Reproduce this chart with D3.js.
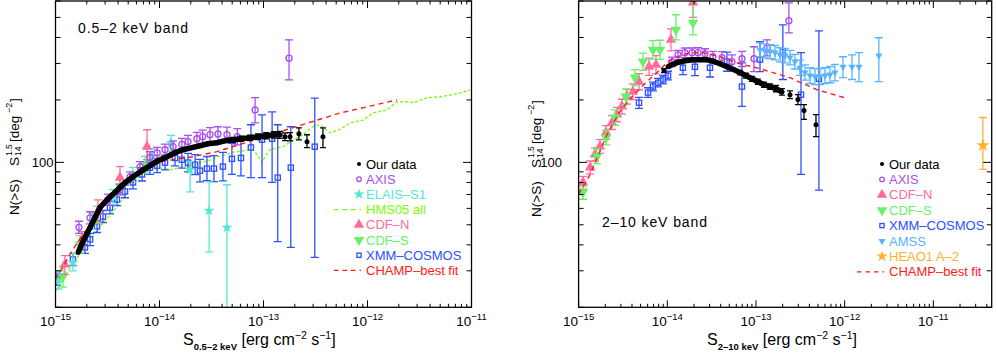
<!DOCTYPE html>
<html>
<head>
<meta charset="utf-8">
<script src="https://cdn.jsdelivr.net/npm/d3@7"></script>
<style>
body{margin:0;background:#fff}
svg{display:block;font-family:"Liberation Sans",Arial,Helvetica,sans-serif}
</style>
</head>
<body>
<svg id="chart" width="997" height="353"></svg>
<script>
// ---- data: [flux (erg cm-2 s-1), N(>S) S14^1.5, lower, upper] ----

// 0.5-2 keV panel
var softOur = [[1.65e-15,36.8],[1.88e-15,42.6],[2.15e-15,48.5],[2.40e-15,54.2],[2.68e-15,60.6],[3.20e-15,66.8],
  [3.90e-15,73.1],[4.66e-15,79.8],[5.56e-15,85.3],[6.79e-15,91.2],[8.11e-15,96.4],[9.68e-15,101.9],[1.18e-14,106.4],
  [1.41e-14,111.3],[1.68e-14,115.1],[2.05e-14,117.7],[2.45e-14,120.3],[2.92e-14,123.0],[3.57e-14,124.4],[4.26e-14,127.1],
  [5.09e-14,128.5],[6.08e-14,130.0],[7.41e-14,131.5],[8.85e-14,132.9],[1.06e-13,134.4],[1.26e-13,135.9],[1.44e-13,135.9]];
var softOurBins = [[5.09e-14,128.5,125.0,132.0],[6.08e-14,130.0,126.3,133.7],[7.41e-14,131.5,127.6,135.4],
  [8.85e-14,132.9,128.7,137.1],[1.06e-13,134.4,129.9,138.9],[1.26e-13,135.9,131.0,140.8],[1.44e-13,135.9,130.6,141.2],
  [1.61e-13,132.9,127.4,138.6],[1.80e-13,132.9,127.0,139.0],[2.19e-13,137.4,128.5,146.8],[2.62e-13,125.7,117.7,135.9],
  [3.73e-13,132.9,117.7,146.8]];
var softAxis = [[1.68e-15,48.6,45.5,52.0],[2.15e-15,54.0,50.5,57.8],[3.2e-15,66.0,62.0,70.3],[4.17e-15,74.0,69.8,78.5],
  [5.2e-15,85.0,80.2,90.0],[6.5e-15,95.0,89.5,100.8],[8.1e-15,106,100,112.5],[9.5e-15,111,104.5,118],[1.13e-14,115,108,122.5],
  [1.35e-14,119,111.5,127],[1.64e-14,122,114,130.5],[1.88e-14,126,117.5,135],[2.29e-14,130,121,139.5],[2.6e-14,133,123.5,143],
  [3.06e-14,136,126,147],[3.65e-14,137,126.5,148.5],[4.45e-14,136,125,148],[5.6e-14,133,121.5,145.5],[8.3e-14,179,155,205],
  [1.76e-13,318,250,390]];
var softElais = [[1.06e-15,27.0,24.5,29.8],[1.47e-15,33.0,30.0,36.3],[2.25e-15,52.0,47.5,57.0],[3.58e-15,68.0,62.5,74.0],
  [5.55e-15,87.0,80.0,94.5],[8.5e-15,107,99,116],[1.29e-14,124,113,135],[1.97e-14,92,72,101],[3.0e-14,58.5,37,80.6],
  [4.45e-14,48.5,15,78]];
var softHms = [[1.0e-15,23.9],[1.29e-15,29.5],[1.84e-15,38.0],[2.68e-15,49.0],[3.9e-15,61.0],[5.56e-15,78.0],[6.94e-15,89.0],
  [1.01e-14,94.0],[1.3e-14,92.0],[1.57e-14,95.0],[2.0e-14,96.0],[2.45e-14,99.7],[3.0e-14,102],[3.57e-14,106],[4.3e-14,109],
  [5.09e-14,112],[6.0e-14,113],[6.93e-14,115],[7.95e-14,115],[8.8e-14,108],[9.68e-14,100],[1.05e-13,108],[1.15e-13,115],
  [1.54e-13,119],[1.92e-13,128],[2.4e-13,136],[2.93e-13,148],[3.49e-13,152],[4.36e-13,139],[5.44e-13,144],[6.79e-13,155],
  [9.06e-13,160],[1.13e-12,173],[1.54e-12,179],[1.92e-12,196],[2.4e-12,196],[2.74e-12,194],[3.74e-12,205],[4.98e-12,207],
  [6.64e-12,212],[9.68e-12,223]];
var softCdfn = [[1.23e-15,32.2,28.8,35.5],[1.80e-15,42.5,39.0,46.3],[2.56e-15,58.0,51.8,66.0],[4.17e-15,84.4,75.6,95.4],
  [7.59e-15,119,103,143.6]];
var softCdfs = [[1.18e-15,28.1,25.0,31.5],[1.72e-15,40.2,36.5,44.3],[2.5e-15,56.0,51.0,61.5],[4.17e-15,76.4,70.0,83.4],
  [7.25e-15,97.5,89.0,106.8]];
var softXmm = [[1.03e-15,27.3,25.5,29.2],[1.47e-15,34.0,31.8,36.4],[1.92e-15,38.9,36.4,41.6],[2.15e-15,42.5,39.7,45.5],
  [2.51e-15,49.1,45.9,52.5],[2.86e-15,54.8,51.2,58.6],[3.34e-15,60.5,56.5,64.8],[3.9e-15,66.2,61.8,70.9],[4.66e-15,72.4,67.5,77.6],
  [5.56e-15,80.0,74.5,85.9],[6.8e-15,87.5,81.3,94.2],[8.1e-15,94.3,87.5,101.6],[9.5e-15,96.4,89.2,104.2],[1.13e-14,99.7,91.9,108.2],
  [1.41e-14,105,96.2,114.6],[1.64e-14,103,93.8,113.1],[1.88e-14,99.7,90.0,110.4],[2.2e-14,97.5,87.3,108.9],[2.45e-14,91.2,80.5,103.3],
  [2.86e-14,93.3,81.6,106.7],[3.34e-14,93.3,80.8,107.7],[4.07e-14,95.4,81.5,111.7],[4.97e-14,104,87.5,123.6],[6.07e-14,105,86.0,128.2],
  [7.57e-14,118,84.4,151.8],[9.68e-14,128.6,84.4,169.5],[1.21e-13,130,80,175],[1.37e-13,84.4,41.5,151.8],[1.83e-13,94.3,38.9,148.5],
  [3.11e-13,119,34.8,204]];
var softChamp = [[1e-15,27.3],[1.54e-15,39.4],[2.86e-15,61.2],[5.56e-15,87.3],[1.01e-14,100.8],[2.1e-14,106.5],[3.57e-14,112.6],
  [1.44e-13,140.5],[5.44e-13,173],[1.92e-12,200]];

// 2-10 keV panel
var hardOur = [[1.02e-14,289],[1.13e-14,296],[1.29e-14,302.6],[1.58e-14,309],[1.95e-14,312.7],[2.34e-14,312.7],[2.80e-14,312.7],
  [3.36e-14,306],[3.93e-14,299],[4.71e-14,289.4],[5.64e-14,280],[6.59e-14,271],[7.70e-14,262],[9.01e-14,253],[1.05e-13,245],
  [1.23e-13,237],[1.44e-13,232],[1.68e-13,227],[1.96e-13,219]];
var hardOurBins = [[9.18e-15,277,271,283],[6.59e-14,271,264,278],[7.70e-14,262,255,269],[9.01e-14,253,246,260],[1.05e-13,245,238,252],
  [1.23e-13,237,230,244],[1.44e-13,232,225,239],[1.68e-13,227,219,235],[1.96e-13,219,211,227],[2.42e-13,212,203,221],
  [2.97e-13,201,190,212],[3.48e-13,178,161,190],[4.75e-13,152,133,170]];
var hardAxis = [[1.13e-14,306,290,322],[1.32e-14,330,313,347],[1.58e-14,338,320,356],[1.90e-14,338,320,356],[2.22e-14,338,319,357],
  [2.66e-14,334,315,353],[3.27e-14,323,303,343],[4.14e-14,320,299,342],[5.36e-14,306,283,330],[6.95e-14,316,290,343],
  [9.49e-14,316,274,361],[1.33e-13,357,326,390],[2.35e-13,482,421,588]];
var hardCdfn = [[1.12e-15,80.1,74.2,85.6],[1.35e-15,94.6,88.0,101.5],[1.53e-15,109.3,101.5,117.5],[1.74e-15,119.4,110.5,128.8],
  [2.04e-15,139.4,129,150.5],[2.38e-15,155.7,144,168],[2.71e-15,170.1,157,184],[3.08e-15,185.9,171,201.5],[3.51e-15,207.6,191,225],
  [4.10e-15,219.4,201,239],[4.80e-15,245.1,224,268],[6.22e-15,289.4,263,318],[7.46e-15,295.8,267,327],[1.10e-14,390,345,440],
  [1.95e-14,590,500,700]];
var hardCdfs = [[1.12e-15,71.7,66.4,76.7],[1.61e-15,106.9,98.5,116],[2.04e-15,131.9,121.5,143],[2.57e-15,164.6,151,179],
  [3.42e-15,207.6,190,226],[4.32e-15,256.3,234,280],[5.32e-15,306,278,336],[6.90e-15,349,315,386],[8.28e-15,349,314,388],
  [1.25e-14,436,390,515],[1.95e-14,471,412,620]];
var hardXmm = [[4.80e-15,194,182,206],[6.06e-15,217,206,229],[6.90e-15,232,221,244],[7.87e-15,242,231,254],[8.97e-15,251,239,263],
  [1.02e-14,262,250,275],[1.50e-14,286,265,308],[2.05e-14,289,262,318],[3.03e-14,286,258,316],[4.71e-14,306,275,340],
  [6.95e-14,232,186,302],[1.11e-13,313,274,382],[2.01e-13,342,251,460],[3.22e-13,212,87.6,338],[5.13e-13,253,73.4,431]];
var hardAmss = [[1.11e-13,349,323,377],[1.26e-13,345,319,373],[1.44e-13,342,316,370],[1.64e-13,338,312,366],[1.87e-13,330,305,357],
  [2.12e-13,327,302,354],[2.42e-13,320,295,347],[2.75e-13,306,282,332],[3.14e-13,286,263,311],[3.57e-13,271,249,295],
  [4.06e-13,262,240,286],[4.63e-13,259,237,283],[5.26e-13,259,237,283],[6.00e-13,262,240,286],[6.83e-13,265,242,290],
  [7.77e-13,271,247,297],[9.57e-13,289,256,323],[1.21e-12,289,251,330],[1.45e-12,289,245,338],[2.43e-12,327,245,399]];
var hardHeao = [[3.62e-11,120.7,92.5,164.6]];
var hardChamp = [[1e-15,70.2],[1.35e-15,87.5],[2.14e-15,139.4],[2.93e-15,176],[4.1e-15,210],[5.9e-15,245],[7.87e-15,274],
  [9.93e-15,302.6],[1.29e-14,323],[1.8e-14,338],[2.53e-14,338],[3.93e-14,323],[6.59e-14,299],[1.11e-13,283],[2.42e-13,256],
  [4.88e-13,224],[1e-12,205]];

var softLegend = ["Our data","AXIS","ELAIS–S1","HMS05 all","CDF–N","CDF–S","XMM–COSMOS","CHAMP–best fit"];
var hardLegend = ["Our data","AXIS","CDF–N","CDF–S","XMM–COSMOS","AMSS","HEAO1 A–2","CHAMP–best fit"];

// ---- styles ----
var col = {our:"#000", axis:"#a84ef0", elais:"#55e6d2", hms:"#7cfc00", cdfn:"#ff6b9b", cdfs:"#66f266",
           xmm:"#2b50ff", amss:"#55b4ff", heao:"#ffb02e", champ:"#ff1a1a"};
var markOf = {"Our data":"dot","AXIS":"circle","ELAIS–S1":"star","HMS05 all":"line","CDF–N":"triUp","CDF–S":"triDown",
  "XMM–COSMOS":"square","AMSS":"triSmall","HEAO1 A–2":"starBig","CHAMP–best fit":"line"};
var colOf = {"Our data":col.our,"AXIS":col.axis,"ELAIS–S1":col.elais,"HMS05 all":col.hms,"CDF–N":col.cdfn,"CDF–S":col.cdfs,
  "XMM–COSMOS":col.xmm,"AMSS":col.amss,"HEAO1 A–2":col.heao,"CHAMP–best fit":col.champ};

var svg = d3.select("#chart");
var yTop = 1, yBot = 307.3;
var y = d3.scaleLog().domain([20, 600]).range([yBot, yTop]);

function isMajor(t){ var l = Math.log10(t); return Math.abs(l - Math.round(l)) < 1e-6; }

function mark(g, type, color, cx, cy, small){
  var tr = "translate(" + cx + "," + cy + ")";
  var r = small ? 2.3 : 3, s = small ? 4.2 : 5.2;
  if (type == "dot") g.append("circle").attr("cx",cx).attr("cy",cy).attr("r",small ? 2 : 2.5).attr("fill",color);
  else if (type == "circle") g.append("circle").attr("cx",cx).attr("cy",cy).attr("r",r).attr("fill","none").attr("stroke",color).attr("stroke-width",1.3);
  else if (type == "square") g.append("rect").attr("x",cx-s/2).attr("y",cy-s/2).attr("width",s).attr("height",s).attr("fill","none").attr("stroke",color).attr("stroke-width",1.3);
  else if (type == "triUp") g.append("path").attr("d",d3.symbol(d3.symbolTriangle,48)()).attr("transform",tr).attr("fill",color);
  else if (type == "triDown") g.append("path").attr("d",d3.symbol(d3.symbolTriangle,48)()).attr("transform",tr+" rotate(180)").attr("fill",color);
  else if (type == "triSmall") g.append("path").attr("d",d3.symbol(d3.symbolTriangle,22)()).attr("transform",tr+" rotate(180)").attr("fill",color);
  else if (type == "star") g.append("path").attr("d",d3.symbol(d3.symbolStar,38)()).attr("transform",tr).attr("fill",color);
  else if (type == "starBig") g.append("path").attr("d",d3.symbol(d3.symbolStar,small ? 40 : 55)()).attr("transform",tr).attr("fill",color);
}

function drawSeries(g, x, data, type, color, cap){
  data.forEach(function(d){
    if (d.length > 2) {
      var px = x(d[0]), ylo = y(d[2]), yhi = y(d[3]);
      g.append("line").attr("x1",px).attr("x2",px).attr("y1",ylo).attr("y2",yhi).attr("stroke",color).attr("stroke-width",1.3);
      g.append("line").attr("x1",px-cap).attr("x2",px+cap).attr("y1",ylo).attr("y2",ylo).attr("stroke",color).attr("stroke-width",1.3);
      g.append("line").attr("x1",px-cap).attr("x2",px+cap).attr("y1",yhi).attr("y2",yhi).attr("stroke",color).attr("stroke-width",1.3);
    }
    mark(g, type, color, x(d[0]), y(d[1]));
  });
}

function drawLine(g, x, data, color, dash, w){
  g.append("path").datum(data)
    .attr("d", d3.line().x(function(d){return x(d[0]);}).y(function(d){return y(d[1]);}))
    .attr("fill","none").attr("stroke",color).attr("stroke-width",w).attr("stroke-dasharray",dash);
}

function drawPanel(p){
  var x = d3.scaleLog().domain(p.xDomain).range([p.x0, p.x1]);

  svg.append("clipPath").attr("id","clip"+p.id).append("rect")
    .attr("x",p.x0).attr("y",yTop).attr("width",p.x1-p.x0).attr("height",yBot-yTop);
  var plot = svg.append("g").attr("clip-path","url(#clip"+p.id+")");

  p.draw(plot, x);

  // frame and ticks (mirrored, pointing inward)
  var ax = svg.append("g");
  ax.append("rect").attr("x",p.x0).attr("y",yTop).attr("width",p.x1-p.x0).attr("height",yBot-yTop)
    .attr("fill","none").attr("stroke","#000").attr("stroke-width",1.3);
  x.ticks().forEach(function(t){
    var px = x(t), L = isMajor(t) ? 7 : 3.5;
    ax.append("line").attr("x1",px).attr("x2",px).attr("y1",yBot).attr("y2",yBot-L).attr("stroke","#000");
    ax.append("line").attr("x1",px).attr("x2",px).attr("y1",yTop).attr("y2",yTop+L).attr("stroke","#000");
    if (isMajor(t)) {
      var txt = ax.append("text").attr("x",px).attr("y",326).attr("text-anchor","middle").attr("font-size",13.5);
      txt.append("tspan").text("10");
      txt.append("tspan").attr("font-size",9.5).attr("dy",-6.5).text("−" + Math.abs(Math.round(Math.log10(t))));
    }
  });
  y.ticks().forEach(function(t){
    var py = y(t), L = isMajor(t) ? 8.5 : 5;
    ax.append("line").attr("x1",p.x0).attr("x2",p.x0+L).attr("y1",py).attr("y2",py).attr("stroke","#000");
    ax.append("line").attr("x1",p.x1).attr("x2",p.x1-L).attr("y1",py).attr("y2",py).attr("stroke","#000");
    if (isMajor(t)) {
      ax.append("text").attr("x",p.yLabelX).attr("y",py+4.5).attr("text-anchor","end").attr("font-size",13).text(t);
    }
  });

  // y title
  var yt = svg.append("g").attr("transform","translate(" + p.yTitleX + "," + p.yTitleY + ") rotate(-90)");
  yt.append("text").attr("x",0).attr("y",0).attr("font-size",13.5).text("N(>S)");
  yt.append("text").attr("x",49).attr("y",0).attr("font-size",13.5).text("S");
  yt.append("text").attr("x",59).attr("y",-7).attr("font-size",8.5).text("1.5");
  yt.append("text").attr("x",59).attr("y",2.5).attr("font-size",8.5).text("14");
  yt.append("text").attr("x",73).attr("y",0).attr("font-size",13.5).text("[deg");
  yt.append("text").attr("x",102).attr("y",-6.5).attr("font-size",9).text("−2");
  yt.append("text").attr("x",113).attr("y",0).attr("font-size",13.5).text("]");

  // x title
  var xt = svg.append("text").attr("x",p.xTitleX).attr("y",345).attr("font-size",16);
  xt.append("tspan").text("S");
  xt.append("tspan").attr("font-size",9.5).attr("font-weight","bold").attr("dy",5).text(p.band);
  xt.append("tspan").attr("dy",-5).text(" [erg cm");
  xt.append("tspan").attr("font-size",10.5).attr("dy",-6.5).text("−2");
  xt.append("tspan").attr("dy",6.5).text(" s");
  xt.append("tspan").attr("font-size",10.5).attr("dy",-6.5).text("−1");
  xt.append("tspan").attr("dy",6.5).text("]");

  // band label
  svg.append("text").attr("x",p.bandX).attr("y",p.bandY).attr("font-size",14)
    .attr("textLength",p.bandLen).attr("lengthAdjust","spacing").text(p.bandText);

  // legend
  var lg = svg.append("g");
  p.legend.forEach(function(name, i){
    var cy = p.legY + i * p.legStep, c = colOf[name], m = markOf[name];
    if (m == "line") {
      lg.append("line").attr("x1",p.legX-32).attr("x2",p.legX-5).attr("y1",cy).attr("y2",cy)
        .attr("stroke",c).attr("stroke-width",1.3).attr("stroke-dasharray","4.5,4");
    } else {
      mark(lg, m, c, p.legX-7, cy, true);
    }
    lg.append("text").attr("x",p.legX).attr("y",cy+4.6).attr("font-size",13).attr("fill",c).text(name);
  });
}

drawPanel({
  id:"soft", x0:55.5, x1:471.5, xDomain:[1e-15,1e-11], yLabelX:53.5, yTitleX:18.5, yTitleY:215,
  xTitleX:183, band:"0.5–2 keV", bandX:78, bandY:33, bandLen:110, bandText:"0.5–2 keV band",
  legend:softLegend, legX:366, legY:164, legStep:15.2,
  draw:function(g, x){
    drawLine(g, x, softHms, col.hms, "3,2", 1.3);
    drawSeries(g, x, softXmm, "square", col.xmm, 4);
    drawSeries(g, x, softElais, "star", col.elais, 4);
    drawSeries(g, x, softCdfs, "triDown", col.cdfs, 4);
    drawSeries(g, x, softCdfn, "triUp", col.cdfn, 4);
    drawSeries(g, x, softAxis, "circle", col.axis, 4);
    drawLine(g, x, softChamp, col.champ, "5,4", 1.4);
    drawLine(g, x, softOur, col.our, null, 5.5);
    drawSeries(g, x, softOur, "dot", col.our, 3);
    drawSeries(g, x, softOurBins, "dot", col.our, 3);
  }
});

drawPanel({
  id:"hard", x0:578.6, x1:991.7, xDomain:[1e-15,4.55e-11], yLabelX:562, yTitleX:540.5, yTitleY:217,
  xTitleX:707, band:"2–10 keV", bandX:602, bandY:227, bandLen:105, bandText:"2–10 keV band",
  legend:hardLegend, legX:889, legY:164, legStep:15.4,
  draw:function(g, x){
    drawSeries(g, x, hardXmm, "square", col.xmm, 4);
    drawSeries(g, x, hardCdfn, "triUp", col.cdfn, 4);
    drawSeries(g, x, hardCdfs, "triDown", col.cdfs, 4);
    drawSeries(g, x, hardAxis, "circle", col.axis, 4);
    drawSeries(g, x, hardAmss, "triSmall", col.amss, 4);
    drawSeries(g, x, hardHeao, "starBig", col.heao, 4);
    drawLine(g, x, hardChamp, col.champ, "5,4", 1.4);
    drawLine(g, x, hardOur, col.our, null, 5.5);
    drawSeries(g, x, hardOur, "dot", col.our, 3);
    drawSeries(g, x, hardOurBins, "dot", col.our, 3);
  }
});
</script>
</body>
</html>
